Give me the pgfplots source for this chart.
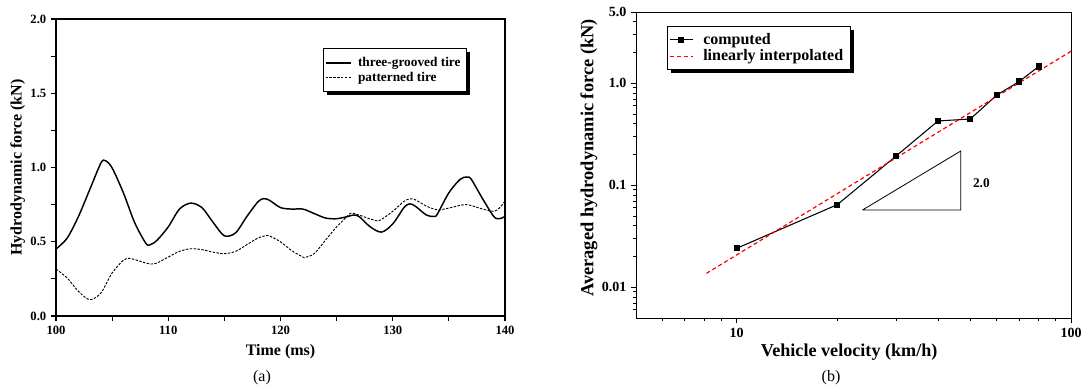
\documentclass[border=0pt]{standalone}
\usepackage{pgfplots}
\pgfplotsset{compat=1.18}
\usepackage{fontspec}
\setmainfont{Liberation Serif}
\usetikzlibrary{shadows}
\makeatletter
\tikzset{nopreaction/.code={\let\tikz@preactions\pgfutil@empty}}
\makeatother
\begin{document}
\begin{tikzpicture}
\useasboundingbox (0pt,0pt) rectangle (815.25pt,291.75pt);
% ---------- (a) ----------
\begin{axis}[
  at={(42pt,54.75pt)}, anchor=south west,
  scale only axis, width=336.75pt, height=222.75pt,
  xmin=100, xmax=140, ymin=0, ymax=2,
  xtick={100,110,120,130,140}, xticklabels={100,110,120,130,140},
  minor xtick={105,115,125,135},
  ytick={0,0.5,1,1.5,2}, yticklabels={0.0,0.5,1.0,1.5,2.0},
  minor ytick={0.25,0.75,1.25,1.75},
  tick align=outside, xtick pos=bottom, ytick pos=left,
  major tick length=3.75pt, minor tick length=3.75pt,
  every tick/.style={black, line width=0.8pt},
  axis line style={line width=0.8pt},
  tick label style={font=\bfseries\fontsize{9.5}{10}\selectfont},
  xlabel={Time (ms)}, ylabel={Hydrodynamic force (kN)},
  label style={font=\bfseries\fontsize{12}{14}\selectfont},
  xlabel style={at={(axis description cs:0.5,-0.121)}, anchor=center},
  ylabel style={at={(axis description cs:-0.085,0.5)}, anchor=center, rotate=0},
  legend style={at={(rel axis cs:0.595,0.902)}, anchor=north west,
    draw=black, line width=0.6pt, fill=white, font=\bfseries\fontsize{10}{11}\selectfont,
    drop shadow={shadow xshift=2.5pt, shadow yshift=-2.5pt, fill=black, opacity=1},
    inner xsep=1pt, inner ysep=4.5pt, row sep=-1.5pt, nodes={inner xsep=3.5pt}},
  legend cell align=left,
  legend image code/.code={\draw[nopreaction,#1] (0pt,0pt) -- (18.75pt,0pt);},
]
\addplot[black, line width=1.1pt, smooth, tension=0.5] coordinates {
(100,0.451) (101,0.525) (102,0.67) (103,0.85) (104,1.03) (104.4,1.046) (105,0.997)
(106,0.83) (107,0.63) (108,0.49) (108.4,0.48) (109,0.51) (110,0.60) (111,0.72)
(112,0.76) (113,0.73) (114,0.63) (115,0.54) (116,0.56) (117,0.67) (118,0.77)
(118.5,0.79) (119,0.78) (120,0.73) (121,0.72) (122,0.72) (123,0.69) (124,0.66)
(125,0.655) (126,0.67) (126.5,0.68) (127,0.67) (128,0.60) (129,0.565) (130,0.62)
(131,0.73) (131.5,0.755) (132,0.74) (133,0.68) (133.7,0.67) (134,0.69) (135,0.83)
(136,0.92) (136.6,0.936) (137,0.92) (138,0.79) (139,0.67) (139.5,0.655) (140,0.67)
};
\addlegendentry{\hspace{1.5pt}three-grooved tire}
\addplot[black, line width=0.7pt, dash pattern=on 1.8pt off 1.1pt, smooth, tension=0.5] coordinates {
(100,0.316) (101,0.256) (102,0.166) (103,0.11) (104,0.155) (105,0.29) (106,0.375)
(106.5,0.388) (107,0.38) (108,0.357) (108.5,0.35) (109,0.357) (110,0.397) (111,0.435)
(112,0.453) (113,0.447) (114,0.43) (115,0.42) (116,0.435) (117,0.48) (118,0.525)
(118.8,0.543) (119,0.54) (120,0.50) (121,0.44) (122,0.397) (122.2,0.395) (123,0.42)
(124,0.51) (125,0.60) (126,0.675) (126.3,0.693) (127,0.68) (128,0.653) (128.7,0.64)
(129,0.65) (130,0.705) (131,0.772) (131.5,0.788) (132,0.783) (133,0.74) (134,0.715)
(135,0.727) (136,0.745) (136.5,0.75) (137,0.744) (138,0.72) (139,0.705) (139.5,0.727) (140,0.775)
};
\addlegendentry{\hspace{1.5pt}patterned tire}
\end{axis}
% ---------- (b) ----------
\begin{axis}[
  at={(477pt,53.25pt)}, anchor=south west,
  scale only axis, width=326.25pt, height=229.5pt,
  xmode=log, ymode=log,
  xmin=5, xmax=100, ymin=0.005, ymax=5,
  xtick={10,100}, xticklabels={10,100},
  minor xtick={6,7,8,9,20,30,40,50,60,70,80,90},
  ytick={0.01,0.1,1,5}, yticklabels={0.01,0.1,1.0,5.0},
  minor ytick={0.006,0.007,0.008,0.009,0.02,0.03,0.04,0.05,0.06,0.07,0.08,0.09,0.2,0.3,0.4,0.5,0.6,0.7,0.8,0.9,2,3,4},
  tick align=outside, xtick pos=bottom, ytick pos=left,
  major tick length=3.75pt, minor tick length=2.2pt,
  every tick/.style={black, line width=0.7pt},
  axis line style={line width=0.7pt},
  tick label style={font=\bfseries\fontsize{10.5}{11}\selectfont},
  xlabel={Vehicle velocity (km/h)},
  ylabel={Averaged hydrodynamic force (kN)},
  xlabel style={font=\bfseries\fontsize{13.6}{15}\selectfont, at={(axis description cs:0.49,-0.111)}, anchor=center},
  ylabel style={font=\bfseries\fontsize{13.8}{15}\selectfont, at={(axis description cs:-0.108,0.523)}, anchor=center, rotate=0},
  legend style={at={(rel axis cs:0.071,0.954)}, anchor=north west,
    draw=black, line width=0.6pt, fill=white, font=\bfseries\fontsize{12}{13}\selectfont,
    drop shadow={shadow xshift=3pt, shadow yshift=-3pt, fill=black, opacity=1},
    inner xsep=1.5pt, inner ysep=3pt, row sep=-1.5pt, nodes={inner xsep=3.5pt}},
  legend cell align=left,
  legend image code/.code={\draw[nopreaction,mark repeat=2,mark phase=2,#1] plot coordinates {(0cm,0cm) (0.3cm,0cm) (0.6cm,0cm)};},
]
\addplot[black, line width=0.8pt, mark=square*, mark size=1.9pt, mark options={solid}] coordinates {
(10,0.0241) (20,0.0646) (30,0.194) (40,0.427) (50,0.447) (60,0.768) (70,1.04) (80,1.46)
};
\addlegendentry{\hspace{4pt}computed}
\addplot[red, line width=0.9pt, dash pattern=on 3pt off 2.2pt] coordinates {
(8.12,0.0137) (100,2.06)
};
\addlegendentry{\hspace{4pt}linearly interpolated\hspace{6.5pt}}
\addplot[black, line width=0.6pt, forget plot] coordinates {
(23.8,0.0573) (46.8,0.0573) (46.8,0.217) (23.8,0.0573)
};
\node[font=\bfseries\fontsize{10}{11}\selectfont, anchor=west] at (axis cs:49.3,0.105) {2.0};
\end{axis}
\node[font=\fontsize{12}{14}\selectfont] at (196.5pt,8.25pt) {(a)};
\node[font=\fontsize{12}{14}\selectfont] at (623.25pt,8.25pt) {(b)};
\end{tikzpicture}
\end{document}
